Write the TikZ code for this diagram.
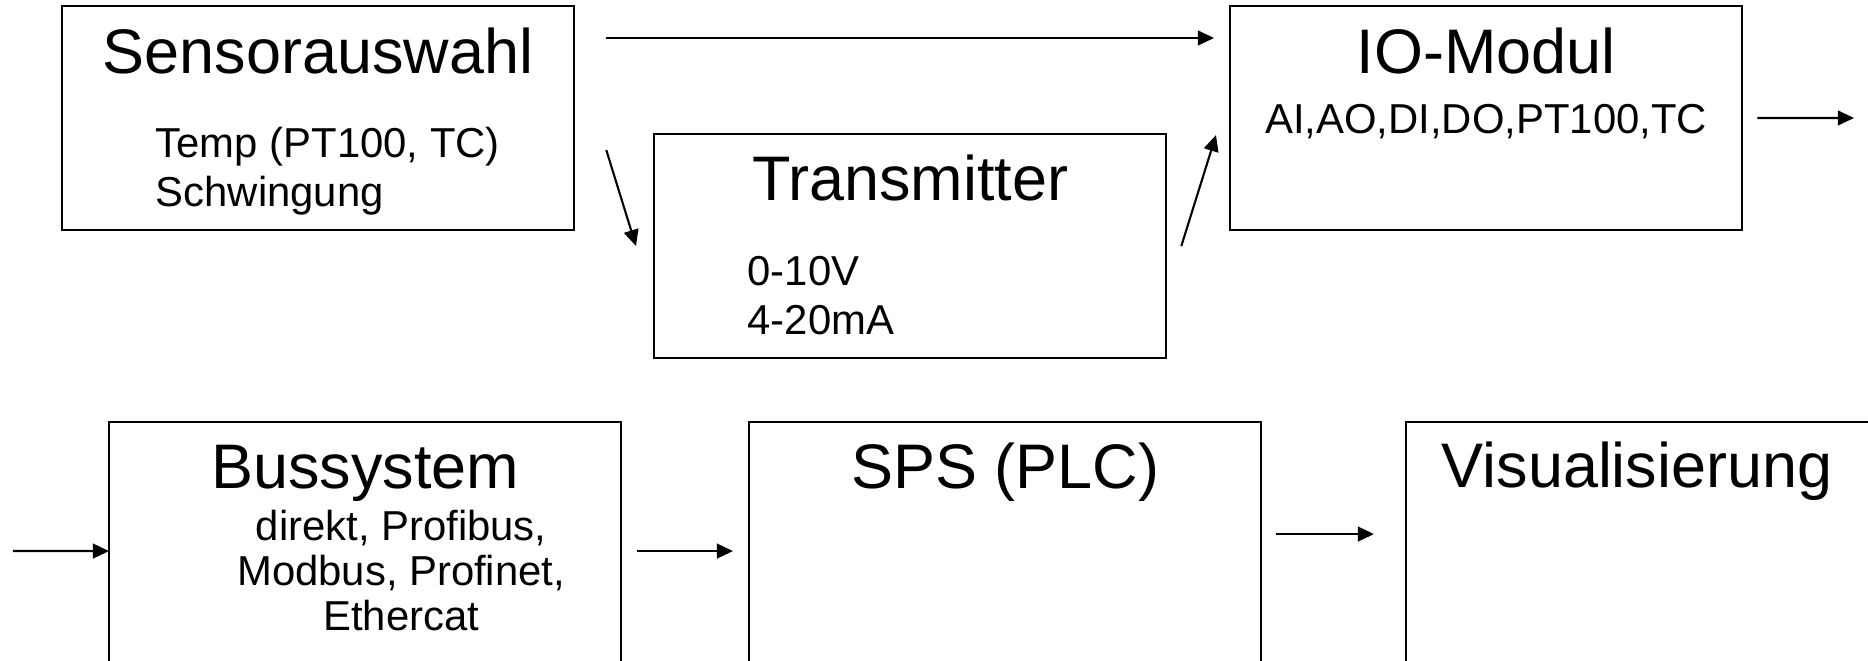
\documentclass[tikz,border=0pt]{standalone}
\usepackage{fontspec}
\setmainfont{Liberation Sans}
\usetikzlibrary{arrows.meta, positioning}

\begin{document}
\begin{tikzpicture}[x=0.01cm, y=-0.01cm,
    block/.style={rectangle, draw=black, line width=0.6pt, minimum width=5.12cm, minimum height=2.24cm, anchor=north west, inner sep=0pt, outer sep=0pt},
    lowblock/.style={block, minimum height=2.58cm},
    title/.style={anchor=base, font=\fontsize{17.9}{21.5}\selectfont, inner sep=0pt},
    info/.style={anchor=base west, align=left, font=\fontsize{11.9}{14.2}\selectfont, inner sep=0pt},
    arrow/.style={-{Triangle[length=4.6pt, width=4.2pt]}, line width=0.6pt}
]
\useasboundingbox (0,0) rectangle (1868,661);
\clip (0,0) rectangle (1868,661);

\node[block] (sensor) at (62,6) {};
\node[block] (trans) at (654,134) {};
\node[block] (io) at (1230,6) {};
\node[lowblock] (bus) at (109,422) {};
\node[lowblock] (sps) at (749,422) {};
\node[lowblock] (vis) at (1406,422) {};

\node[title] (sensortitle) at ([yshift=-0.67cm]sensor.north) {Sensorauswahl};
\node[info] (sensorinfo) at ([shift={(93,201)}]sensor.north west) {Temp (PT100, TC)\\Schwingung};
\node[title] (transtitle) at ([yshift=-0.66cm]trans.north) {Transmitter};
\node[info] (transinfo) at ([shift={(93,201)}]trans.north west) {0-10V\\4-20mA};
\node[title] (iotitle) at ([yshift=-0.67cm]io.north) {IO-Modul};
\node[info, anchor=base] (ioinfo) at ([yshift=-1.27cm]io.north) {AI,AO,DI,DO,PT100,TC};
\node[title] (bustitle) at ([yshift=-0.66cm]bus.north) {Bussystem};
\node[info, anchor=base, align=center, font=\fontsize{11.9}{12.8}\selectfont] (businfo) at ([shift={(36,209)}]bus.north) {direkt, Profibus,\\Modbus, Profinet,\\Ethercat};
\node[title] (spstitle) at ([yshift=-0.66cm]sps.north) {SPS (PLC)};
\node[title, anchor=base west] (vistitle) at ([shift={(35,66)}]vis.north west) {Visualisierung};

\coordinate (out) at (1854,118);
\coordinate (in) at (13,551);

\draw[arrow, shorten <=0.32cm, shorten >=0.16cm] ([yshift=-0.32cm]sensor.north east) -- ([yshift=-0.32cm]io.north west);
\draw[arrow] ([shift={(32,32)}]sensor.east) -- ([xshift=-0.18cm]trans.west);
\draw[arrow] ([xshift=0.15cm]trans.east) -- ([shift={(-14,17)}]io.west);
\draw[arrow, shorten <=0.15cm] (io.east) -- (out);
\draw[arrow] (in) -- (bus.west);
\draw[arrow, shorten <=0.16cm, shorten >=0.16cm] (bus.east) -- (sps.west);
\draw[arrow, shorten <=0.15cm, shorten >=0.32cm] ([yshift=0.17cm]sps.east) -- ([yshift=0.17cm]vis.west);
\end{tikzpicture}
\end{document}
